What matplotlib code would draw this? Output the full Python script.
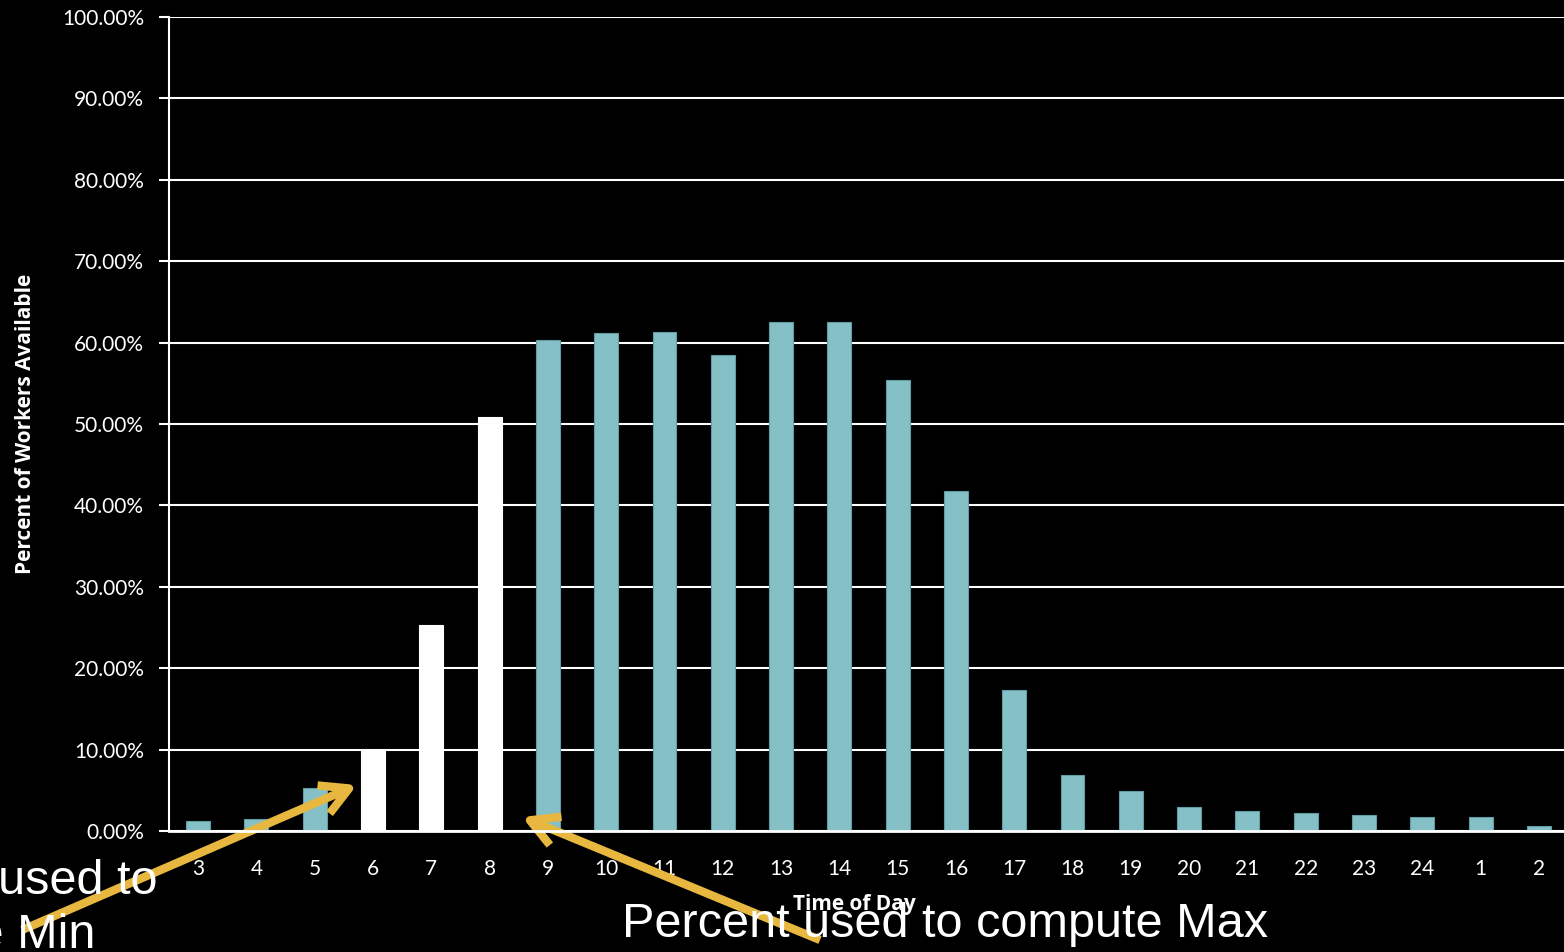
import matplotlib.pyplot as plt
from matplotlib.ticker import FuncFormatter

hours = ['3', '4', '5', '6', '7', '8', '9', '10', '11', '12', '13', '14',
         '15', '16', '17', '18', '19', '20', '21', '22', '23', '24', '1', '2']
available = [1.2, 1.5, 5.3, 10.0, 25.3, 50.9, 60.3, 61.2, 61.3, 58.5, 62.5, 62.5,
             55.4, 41.8, 17.3, 6.9, 4.9, 2.9, 2.4, 2.2, 2.0, 1.7, 1.7, 0.6]
min_hours = ['6', '7', '8']  # hours used for the minimum

teal = '#85c0c6'
gold = '#e8b73f'

fig = plt.figure(figsize=(15.64, 9.52), dpi=100, facecolor='black')
ax = fig.add_axes([169 / 1564, 121 / 952, 1399 / 1564, 814 / 952])
ax.set_facecolor('black')

colors = ['white' if h in min_hours else teal for h in hours]
edges = ['white' if h in min_hours else '#5f9ea4' for h in hours]
x = list(range(len(hours)))
ax.bar(x, available, width=0.41, color=colors, edgecolor=edges, linewidth=0.8, zorder=3)

ax.set_xlim(-0.5, len(hours) - 0.5)
ax.set_ylim(0, 100)
ax.set_yticks(range(0, 101, 10))
ax.yaxis.set_major_formatter(FuncFormatter(lambda v, p: f'{v:.2f}%'))
ax.grid(axis='y', color='white', linewidth=1.5, zorder=1)
ax.set_xticks(x)
ax.set_xticklabels(hours)

for s in ['top', 'right']:
    ax.spines[s].set_visible(False)
ax.spines['left'].set_color('white')
ax.spines['left'].set_linewidth(1.5)
ax.spines['bottom'].set_color('white')
ax.spines['bottom'].set_linewidth(2)
ax.spines['bottom'].set_zorder(4)

ax.tick_params(axis='y', colors='white', labelsize=15, length=7, width=1.5, pad=11)
ax.tick_params(axis='x', colors='white', labelsize=15, length=0, pad=20)
for lab in ax.get_xticklabels() + ax.get_yticklabels():
    lab.set_family('Lato')

ax.set_xlabel('Time of Day', color='white', fontsize=15, fontweight='bold',
              family='Open Sans')
ax.xaxis.set_label_coords(0.49, -0.078)
ax.xaxis.label.set_zorder(5)
ax.set_ylabel('Percent of Workers Available', color='white', fontsize=15,
              fontweight='bold', family='Open Sans')
ax.yaxis.set_label_coords(-0.095, 0.5)

# callout text, partly running off the left edge
fig.text(-183 / 1564, 1 - 948 / 952, 'Percent used to\ncompute Min', color='white',
         fontsize=35, family='Liberation Sans', ha='left', va='baseline',
         multialignment='left', linespacing=1.25)
fig.text(622 / 1564, 1 - 937 / 952, 'Percent used to compute Max', color='white',
         fontsize=35, family='Liberation Sans', ha='left', va='baseline')

# arrows pointing at the bars
arrow = dict(arrowstyle='->,head_length=2.0,head_width=1.1', color=gold, lw=6,
             shrinkA=0, shrinkB=0, capstyle='butt')
ax.annotate('', xy=(357, 952 - 785), xytext=(22, 952 - 930),
            xycoords='figure pixels', textcoords='figure pixels',
            arrowprops=arrow, annotation_clip=False)
ax.annotate('', xy=(522, 952 - 817), xytext=(820, 952 - 940),
            xycoords='figure pixels', textcoords='figure pixels',
            arrowprops=arrow, annotation_clip=False)

fig.savefig('out.png', dpi=100, facecolor='black')
